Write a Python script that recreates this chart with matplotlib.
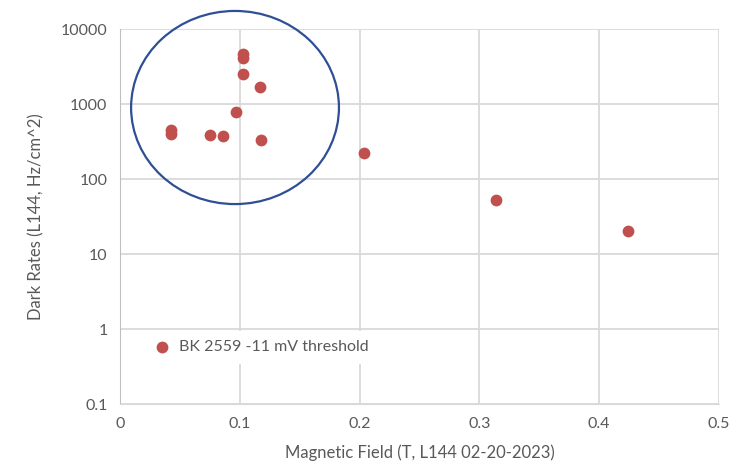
import numpy as np
import matplotlib.pyplot as plt
from matplotlib.patches import Ellipse

# Magnetic field (T) vs dark rate (Hz/cm^2)
field = [0.0425, 0.0425, 0.075, 0.0856, 0.0967, 0.1025, 0.1025, 0.1025, 0.1167, 0.118, 0.204, 0.314, 0.424]
rate = [460, 400, 390, 378, 797, 2510, 4690, 4140, 1700, 331, 224, 53, 20.6]
series_name = "BK 2559 -11 mV threshold"

x_ticks = [0, 0.1, 0.2, 0.3, 0.4, 0.5]
y_ticks = [0.1, 1, 10, 100, 1000, 10000]
y_tick_labels = ["0.1", "1", "10", "100", "1000", "10000"]

plt.rcParams['font.family'] = ['Lato', 'DejaVu Sans']
text_col = '#595959'

fig = plt.figure(figsize=(7.34, 4.73), dpi=100)
ax = fig.add_axes([0.1635, 0.1452, 0.8161, 0.7928])

ax.scatter(field, rate, s=72, color='#C0504D', zorder=3, label=series_name, linewidths=0)

ax.set_yscale('log')
ax.set_xlim(0, 0.5)
ax.set_ylim(0.1, 10000)
ax.set_xticks(x_ticks)
ax.set_xticklabels(["0", "0.1", "0.2", "0.3", "0.4", "0.5"])
ax.set_yticks(y_ticks)
ax.set_yticklabels(y_tick_labels)
ax.minorticks_off()
ax.tick_params(length=0, labelsize=11.5, colors=text_col, pad=9)
ax.grid(True, color='#d9d9d9', linewidth=1.3)
ax.set_axisbelow(True)
for s in ax.spines.values():
    s.set_visible(False)
ax.spines['left'].set_visible(True)
ax.spines['left'].set_color('#bfbfbf')
ax.spines['bottom'].set_visible(True)
ax.spines['bottom'].set_color('#d9d9d9')

ax.set_xlabel("Magnetic Field (T, L144 02-20-2023)", fontsize=12, color=text_col, labelpad=10)
ax.set_ylabel("Dark Rates (L144, Hz/cm^2)", fontsize=12, color=text_col, labelpad=12)

leg = ax.legend(loc='upper left', bbox_to_anchor=(0.025, 0.218), frameon=True, fontsize=11.5,
                handletextpad=0.45, borderpad=0.6, handlelength=1.2, markerscale=1.0)
leg.get_frame().set_facecolor('white')
leg.get_frame().set_edgecolor('none')
leg.get_frame().set_alpha(1)
for t in leg.get_texts():
    t.set_color(text_col)

ell = Ellipse((0.192, 0.7915), 0.347, 0.515, transform=ax.transAxes, fill=False,
              edgecolor='#2F4F95', linewidth=1.6, clip_on=False, zorder=4)
ax.add_patch(ell)

fig.savefig("out.png", dpi=100)
